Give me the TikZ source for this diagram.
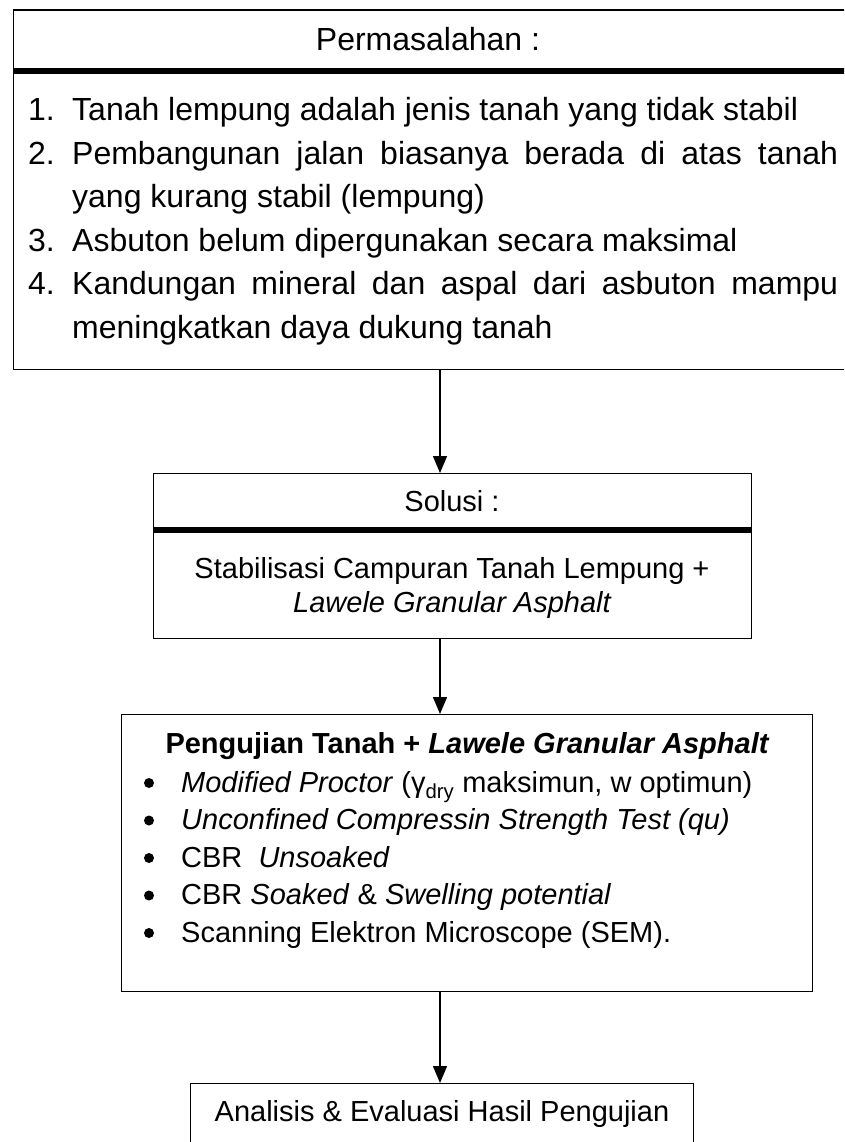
\documentclass[tikz,border=0pt]{standalone}
\usepackage{fontspec}
\setmainfont{Liberation Sans}
\usetikzlibrary{arrows.meta}
\begin{document}
\begin{tikzpicture}[x=1pt,y=-1pt,
  box/.style={draw,line width=1.4pt,inner sep=0pt,anchor=north west},
  sepline/.style={line width=6pt},
  arr/.style={line width=1.4pt,-{Triangle[length=17pt,width=14pt]}},
  bigtxt/.style={font=\fontsize{32}{38}\selectfont,inner sep=0pt},
  midtxt/.style={font=\fontsize{29}{35}\selectfont,inner sep=0pt},
  bul/.style={fill=black}]
\useasboundingbox (0,0) rectangle (844,1142);
\clip (0,0) rectangle (844,1142);
\fill[white] (0,0) rectangle (844,1142);
% boxes
\node[box,minimum width=847pt,minimum height=359.5pt] (prob) at (13,9.5) {};
\node[box,minimum width=598pt,minimum height=165pt] (sol) at (153,473) {};
\node[box,minimum width=691pt,minimum height=277pt] (test) at (121,714) {};
\node[box,minimum width=503pt,minimum height=100pt] (res) at (190,1083) {};
% separators
\coordinate (s1) at (0,71);
\coordinate (s2) at (0,530);
\draw[sepline] (prob.west |- s1) -- (prob.east |- s1);
\draw[sepline] (sol.west |- s2) -- (sol.east |- s2);
% arrows
\coordinate (ax) at (440,0);
\draw[arr] (prob.south -| ax) -- (sol.north -| ax);
\draw[arr] (sol.south -| ax) -- (test.north -| ax);
\draw[arr] (test.south -| ax) -- (res.north -| ax);
% problem box text
\node[bigtxt,anchor=base] (ph) at (428,51) {Permasalahan :};
\node[bigtxt,anchor=base west] (n1) at (28,121) {1.};
\node[bigtxt,anchor=base west] (l1) at (72,121) {Tanah lempung adalah jenis tanah yang tidak stabil};
\node[bigtxt,anchor=base west] (n2) at (28,164.4) {2.};
\node[bigtxt,anchor=base west] (l2) at (72,164.4) {\makebox[766pt][s]{Pembangunan jalan biasanya berada di atas tanah}};
\node[bigtxt,anchor=base west] (l3) at (72,207.8) {yang kurang stabil (lempung)};
\node[bigtxt,anchor=base west] (n3) at (28,251.2) {3.};
\node[bigtxt,anchor=base west] (l4) at (72,251.2) {Asbuton belum dipergunakan secara maksimal};
\node[bigtxt,anchor=base west] (n4) at (28,294.6) {4.};
\node[bigtxt,anchor=base west] (l5) at (72,294.6) {\makebox[766pt][s]{Kandungan mineral dan aspal dari asbuton mampu}};
\node[bigtxt,anchor=base west] (l6) at (72,338) {meningkatkan daya dukung tanah};
% solution box text
\node[midtxt,anchor=base] (sh) at (452,511) {Solusi :};
\node[midtxt,anchor=base] (s1t) at (452,578) {Stabilisasi Campuran Tanah Lempung +};
\node[midtxt,anchor=base] (s2t) at (452,612) {\itshape Lawele Granular Asphalt};
% test box text
\node[midtxt,anchor=base] (th) at (467,753) {\bfseries Pengujian Tanah + \itshape Lawele Granular Asphalt};
\fill[bul] (149,783) circle (5pt);
\fill[bul] (149,820.5) circle (5pt);
\fill[bul] (149,858) circle (5pt);
\fill[bul] (149,895.5) circle (5pt);
\fill[bul] (149,933) circle (5pt);
\node[midtxt,anchor=base west] (i1) at (181,792) {\textit{Modified Proctor} (γ\textsubscript{dry} maksimun, w optimun)};
\node[midtxt,anchor=base west] (i2) at (181,829.5) {\textit{Unconfined Compressin Strength Test (qu)}};
\node[midtxt,anchor=base west] (i3) at (181,867) {CBR\ \ \textit{Unsoaked}};
\node[midtxt,anchor=base west] (i4) at (181,904.5) {CBR \textit{Soaked} \& \textit{Swelling potential}};
\node[midtxt,anchor=base west] (i5) at (181,942) {Scanning Elektron Microscope (SEM).};
% result box text
\node[midtxt,anchor=base] (rt) at (442,1121) {Analisis \& Evaluasi Hasil Pengujian};
\end{tikzpicture}
\end{document}
